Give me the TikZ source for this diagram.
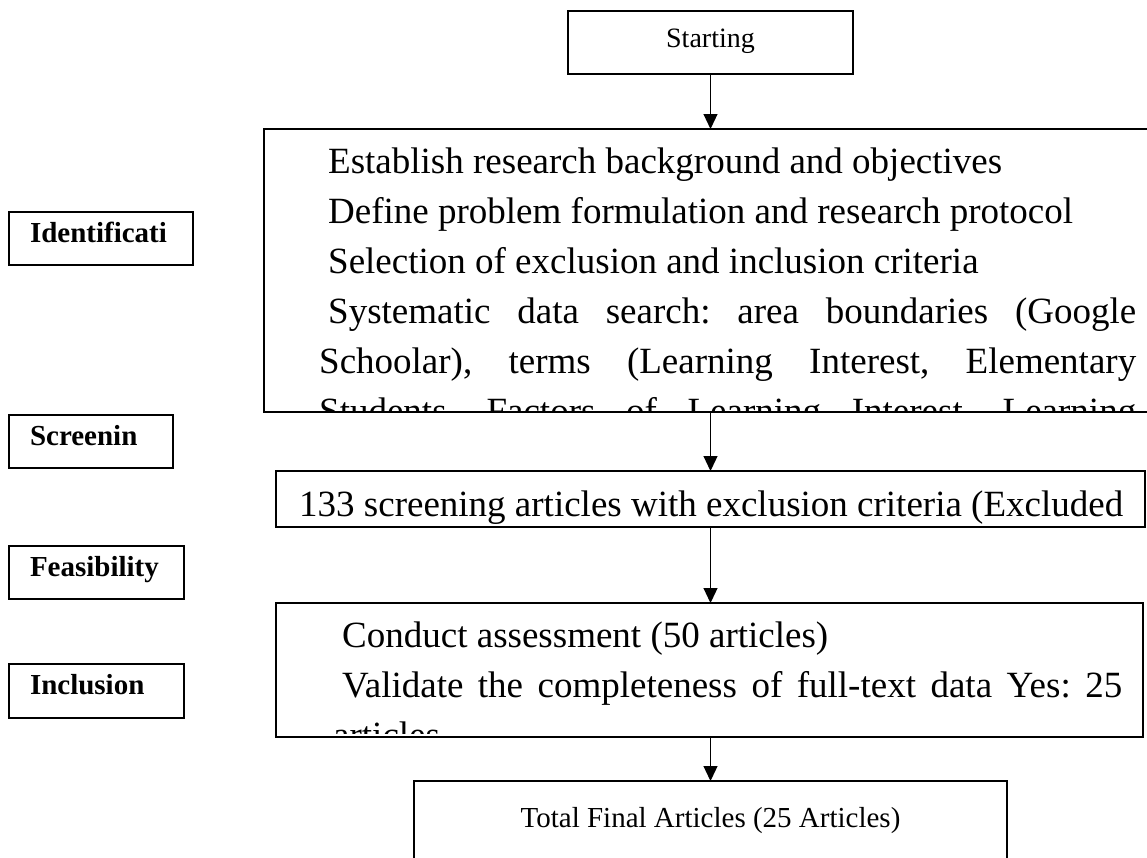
\documentclass[tikz,border=0pt]{standalone}
\usepackage{fontspec}
\setmainfont{Liberation Serif}
\usepackage{pgf,tikz}
\usetikzlibrary{arrows.meta}
\newcommand{\flowsetup}{\hyphenpenalty=10000 \exhyphenpenalty=10000 \tolerance=9999 \emergencystretch=3em \frenchspacing}
\newcommand{\flowpar}{\leavevmode\hspace*{9pt}}
\tikzset{
    stepbox/.style={draw, line width=1.8pt, outer sep=0pt, inner sep=0pt, anchor=north west},
    phasebox/.style={draw, line width=1.6pt, outer sep=0pt, inner xsep=21pt, inner ysep=0pt,
        anchor=north west, align=left, minimum height=53pt, text height=20pt, text depth=13pt,
        font=\fontsize{29}{35}\selectfont\bfseries},
    steptext/.style={anchor=base west, inner sep=0pt, align=justify, font=\fontsize{37}{50}\selectfont},
    flowarrow/.style={-{Triangle[length=15pt,width=14pt]}, line width=1.2pt}
}

\begin{document}
\begin{tikzpicture}[x=1pt, y=-1pt]
    \useasboundingbox (0,0) rectangle (1147,857);
    % phases on the left
    \node[phasebox, text width=142pt] (identification) at (9,212) {Identificati};
    \node[phasebox, text width=122pt] (screening) at (9,415) {Screenin};
    \node[phasebox, text width=133pt] (feasibility) at (9,546) {Feasibility};
    \node[phasebox, text width=133pt, minimum height=54pt] (inclusion) at (9,664) {Inclusion};
    % flow boxes
    \node[stepbox, minimum width=285pt, minimum height=63pt, text height=19pt, text depth=10pt,
        font=\fontsize{28}{34}\selectfont] (start) at (568,11) {Starting};
    \node[stepbox, minimum width=900pt, minimum height=283pt] (ident) at (264,129) {};
    \node[stepbox, minimum width=869pt, minimum height=56pt] (screen) at (276,471) {};
    \node[stepbox, minimum width=867pt, minimum height=134pt] (feas) at (276,603) {};
    \node[stepbox, minimum width=593pt, minimum height=79pt, text height=19pt, text depth=6pt,
        font=\fontsize{29}{35}\selectfont] (final) at (414,781) {Total Final Articles (25 Articles)};
    % texts cut off by the box borders
    \begin{scope}
        \clip ([yshift=2pt]ident.south west) rectangle (ident.north east);
        \node[steptext, text width=817pt] (identtext) at (319,173) {\flowsetup
            \flowpar Establish research background and objectives\par
            \flowpar Define problem formulation and research protocol\par
            \flowpar Selection of exclusion and inclusion criteria\par
            \flowpar Systematic data search: area boundaries (Google Schoolar), terms (Learning Interest, Elementary Students, Factors of Learning Interest, Learning\linebreak\par};
    \end{scope}
    \begin{scope}
        \clip ([yshift=1pt]screen.south west) rectangle (screen.north east);
        \node[anchor=base west, inner sep=0pt, font=\fontsize{37}{50}\selectfont] (screentext) at (299,516)
            {133 screening articles with exclusion criteria (Excluded};
    \end{scope}
    \begin{scope}
        \clip ([yshift=4pt]feas.south west) rectangle (feas.north east);
        \node[steptext, text width=789pt] (feastext) at (333,647) {\flowsetup
            \flowpar Conduct assessment (50 articles)\par
            \flowpar Validate the completeness of full-text data Yes: 25 articles\par};
    \end{scope}
    % arrows down the middle
    \draw[flowarrow] (start.south) -- (start.south |- ident.north);
    \draw[flowarrow] (start.south |- ident.south) -- (start.south |- screen.north);
    \draw[flowarrow] (start.south |- screen.south) -- (start.south |- feas.north);
    \draw[flowarrow] (start.south |- feas.south) -- (final.north);
\end{tikzpicture}
\end{document}
